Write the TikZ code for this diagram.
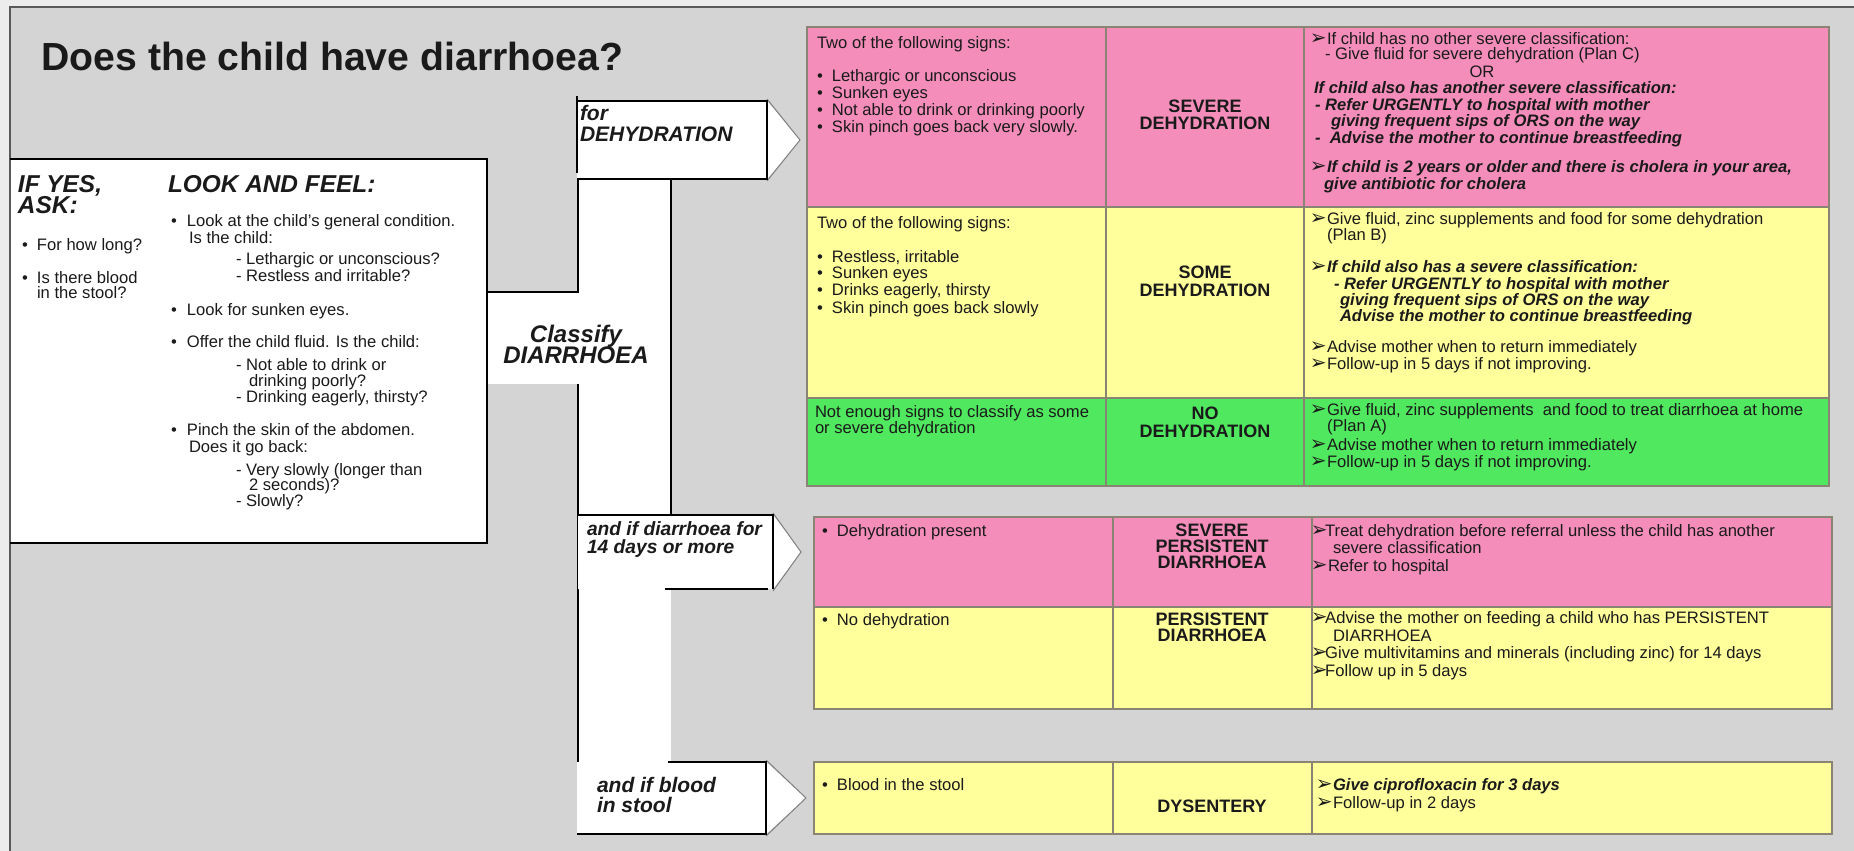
\documentclass[tikz,border=0pt]{standalone}
\usepackage{fontspec}
\setmainfont{Liberation Sans}
\newfontfamily\dv{DejaVu Sans}
\usetikzlibrary{fit}
\definecolor{pnk}{HTML}{F48DBA}
\definecolor{ylw}{HTML}{FFFF9C}
\definecolor{grn}{HTML}{50E85E}
\definecolor{panel}{HTML}{D4D4D4}
\definecolor{outerbg}{HTML}{ECECEC}
\definecolor{cellline}{HTML}{8A8474}
\definecolor{ink}{HTML}{1A1A1A}
\newcommand\body{\fontsize{8.3}{10}\selectfont}
\newcommand\bul{\makebox[7.5pt][l]{•}}
\newcommand\bulL{\makebox[8pt][l]{•}}
\newcommand\arrglyph{\smash{\kern-1.6pt{\dv\fontsize{10}{10}\selectfont ➢}}}
\newcommand\arr{\makebox[7pt][l]{\arrglyph}}
\newcommand\arrn{\makebox[5.6pt][l]{\arrglyph}}
\newcommand\bis[1]{\textbf{\textit{#1}}}
\tikzset{
  tx/.style={anchor=base west, inner sep=0pt, outer sep=0pt, font=\body, text=ink},
  bi/.style={tx, font=\body\bfseries\itshape},
  ctx/.style={anchor=base, inner sep=0pt, outer sep=0pt, font=\body, text=ink},
  cls/.style={anchor=base, inner sep=0pt, outer sep=0pt, font=\fontsize{9}{10}\selectfont\bfseries, text=ink},
  hd/.style={anchor=base west, inner sep=0pt, outer sep=0pt, font=\fontsize{12.2}{14}\selectfont\bfseries\itshape, text=ink},
  lbl/.style={anchor=base west, inner sep=0pt, outer sep=0pt, font=\fontsize{10.5}{12}\selectfont\bfseries\itshape, text=ink},
  lbls/.style={anchor=base west, inner sep=0pt, outer sep=0pt, font=\fontsize{9.6}{11}\selectfont\bfseries\itshape, text=ink},
  cellst/.style={draw=cellline, line width=0.8pt, inner sep=0pt, outer sep=0pt},
  blk/.style={line width=1.1pt, black},
  tri/.style={line width=0.5pt, gray},
}
\begin{document}
\begin{tikzpicture}[x=0.5pt,y=-0.5pt]
\useasboundingbox (0,0) rectangle (1854,851);
% backgrounds
\fill[outerbg] (0,0) rectangle (1854,851);
\fill[panel] (10,7) rectangle (1854,851);
\draw[line width=0.8pt, color=black!65] (10,851) -- (10,7) -- (1854,7);

% title
\node[anchor=base west, inner sep=0pt, font=\fontsize{19.6}{22}\selectfont\bfseries, text=ink] (title) at (41,70) {Does the child have diarrhoea?};

% white connector strip
\fill[white] (578,179) rectangle (671,764);
\fill[white] (486,292) rectangle (579,384);

% left box
\node[fill=white, inner sep=0pt, outer sep=0pt, fit={(11,159) (487,543)}] (lbox) {};
\draw[blk] (10,159) -- (487,159) -- (487,543) -- (10,543);

% strip lines
\draw[blk] (578,179) -- (578,292) -- (487,292);
\draw[blk] (578,384) -- (578,834);
\draw[blk] (671,179) -- (671,515);

% arrow box: for DEHYDRATION
\fill[white] (577,101) -- (767,101) -- (800,140) -- (767,179) -- (577,179) -- cycle;
\draw[tri] (767,99) -- (800,140) -- (767,181);
\draw[blk] (577,101) -- (767,101) -- (767,179) -- (577,179);
\draw[blk] (577,96) -- (577,173);
\coordinate (dtip) at (800,140);

% arrow box: 14 days
\fill[white] (578,515) -- (773,515) -- (801,552) -- (773,589) -- (578,589) -- cycle;
\draw[tri] (773,513) -- (801,552) -- (773,591);
\draw[blk] (578,515) -- (773,515) -- (773,589);
\draw[blk] (665,589) -- (768,589);
\coordinate (ptip) at (801,552);

% arrow box: blood
\fill[white] (577,762) -- (766,762) -- (806,798) -- (766,834) -- (577,834) -- cycle;
\draw[tri] (766,760) -- (806,798) -- (766,836);
\draw[blk] (668,762) -- (766,762) -- (766,834) -- (577,834);
\coordinate (btip) at (806,798);

% ---------- upper table cells
\node[cellst, fill=pnk, fit={(807,27) (1106,207)}] (p11) {};
\node[cellst, fill=pnk, fit={(1106,27) (1304,207)}] (p12) {};
\node[cellst, fill=pnk, fit={(1304,27) (1829,207)}] (p13) {};
\node[cellst, fill=ylw, fit={(807,207) (1106,398)}] (y11) {};
\node[cellst, fill=ylw, fit={(1106,207) (1304,398)}] (y12) {};
\node[cellst, fill=ylw, fit={(1304,207) (1829,398)}] (y13) {};
\node[cellst, fill=grn, fit={(807,398) (1106,486)}] (g11) {};
\node[cellst, fill=grn, fit={(1106,398) (1304,486)}] (g12) {};
\node[cellst, fill=grn, fit={(1304,398) (1829,486)}] (g13) {};
% persistent
\node[cellst, fill=pnk, fit={(814,517) (1113,607)}] (p21) {};
\node[cellst, fill=pnk, fit={(1113,517) (1312,607)}] (p22) {};
\node[cellst, fill=pnk, fit={(1312,517) (1832,607)}] (p23) {};
\node[cellst, fill=ylw, fit={(814,607) (1113,709)}] (y21) {};
\node[cellst, fill=ylw, fit={(1113,607) (1312,709)}] (y22) {};
\node[cellst, fill=ylw, fit={(1312,607) (1832,709)}] (y23) {};
% dysentery
\node[cellst, fill=ylw, fit={(814,762) (1113,834)}] (y31) {};
\node[cellst, fill=ylw, fit={(1113,762) (1312,834)}] (y32) {};
\node[cellst, fill=ylw, fit={(1312,762) (1832,834)}] (y33) {};

% ---------- left box text
\node[hd] (ify) at (18,192) {IF YES,};
\node[hd] (ask) at (18,213) {ASK:};
\node[hd] (lf) at (168,192) {LOOK AND FEEL:};
\node[tx] (q1) at (22,250) {\bul For how long?};
\node[tx] (q2) at (22,283) {\bul Is there blood};
\node[tx] (q3) at (37,298) {in the stool?};
\node[tx] (l1) at (171,226) {\bulL Look at the child’s general condition.};
\node[tx] (l2) at (189,243) {Is the child:};
\node[tx] (l3) at (236,264) {- Lethargic or unconscious?};
\node[tx] (l4) at (236,281) {- Restless and irritable?};
\node[tx] (l5) at (171,315) {\bulL Look for sunken eyes.};
\node[tx] (l6) at (171,347) {\bulL Offer the child fluid. Is the child:};
\node[tx] (l7) at (236,370) {- Not able to drink or};
\node[tx] (l8) at (249,386) {drinking poorly?};
\node[tx] (l9) at (236,402) {- Drinking eagerly, thirsty?};
\node[tx] (l10) at (171,435) {\bulL Pinch the skin of the abdomen.};
\node[tx] (l11) at (189,452) {Does it go back:};
\node[tx] (l12) at (236,475) {- Very slowly (longer than};
\node[tx] (l13) at (249,490) {2 seconds)?};
\node[tx] (l14) at (236,506) {- Slowly?};

% classify
\node[anchor=base, inner sep=0pt, font=\fontsize{12}{14}\selectfont\bfseries\itshape, text=ink] (cl1) at (576,342) {Classify};
\node[anchor=base, inner sep=0pt, font=\fontsize{12}{14}\selectfont\bfseries\itshape, text=ink] (cl2) at (576,363) {DIARRHOEA};

% arrow labels
\node[lbl] (fd1) at (580,120) {for};
\node[lbl] (fd2) at (580,141) {DEHYDRATION};
\node[lbls] (fp1) at (587,535) {and if diarrhoea for};
\node[lbls] (fp2) at (587,553) {14 days or more};
\node[lbl] (fb1) at (597,792) {and if blood};
\node[lbl] (fb2) at (597,812) {in stool};

% ---------- severe dehydration
\node[tx] (a1) at (817,48) {Two of the following signs:};
\node[tx] (a2) at (817,81) {\bul Lethargic or unconscious};
\node[tx] (a3) at (817,98) {\bul Sunken eyes};
\node[tx] (a4) at (817,115) {\bul Not able to drink or drinking poorly};
\node[tx] (a5) at (817,132) {\bul Skin pinch goes back very slowly.};
\node[cls] (a6) at (1205,112) {SEVERE};
\node[cls] (a7) at (1205,129) {DEHYDRATION};
\node[tx] (a8) at (1313,44) {\arr If child has no other severe classification:};
\node[tx] (a9) at (1325,60) {- Give fluid for severe dehydration (Plan C)};
\node[ctx] (a10) at (1482,77) {OR};
\node[bi] (a11) at (1314,93) {If child also has another severe classification:};
\node[bi] (a12) at (1315,110) {- Refer URGENTLY to hospital with mother};
\node[bi] (a13) at (1331,126) {giving frequent sips of ORS on the way};
\node[bi] (a14) at (1315,143) {-\ \ Advise the mother to continue breastfeeding};
\node[tx] (a15) at (1313,172) {\arr\bis{If child is 2 years or older and there is cholera in your area,}};
\node[bi] (a16) at (1324,189) {give antibiotic for cholera};

% ---------- some dehydration
\node[tx] (b1) at (817,228) {Two of the following signs:};
\node[tx] (b2) at (817,262) {\bul Restless, irritable};
\node[tx] (b3) at (817,278) {\bul Sunken eyes};
\node[tx] (b4) at (817,295) {\bul Drinks eagerly, thirsty};
\node[tx] (b5) at (817,313) {\bul Skin pinch goes back slowly};
\node[cls] (b6) at (1205,278) {SOME};
\node[cls] (b7) at (1205,296) {DEHYDRATION};
\node[tx] (b8) at (1313,224) {\arr Give fluid, zinc supplements and food for some dehydration};
\node[tx] (b9) at (1327,240) {(Plan B)};
\node[tx] (b10) at (1313,272) {\arr\bis{If child also has a severe classification:}};
\node[bi] (b11) at (1334,289) {- Refer URGENTLY to hospital with mother};
\node[bi] (b12) at (1340,305) {giving frequent sips of ORS on the way};
\node[bi] (b13) at (1340,321) {Advise the mother to continue breastfeeding};
\node[tx] (b14) at (1313,352) {\arr Advise mother when to return immediately};
\node[tx] (b15) at (1313,369) {\arr Follow-up in 5 days if not improving.};

% ---------- no dehydration
\node[tx] (c1) at (815,417) {Not enough signs to classify as some};
\node[tx] (c2) at (815,433) {or severe dehydration};
\node[cls] (c3) at (1205,419) {NO};
\node[cls] (c4) at (1205,437) {DEHYDRATION};
\node[tx] (c5) at (1313,415) {\arr Give fluid, zinc supplements\ \ and food to treat diarrhoea at home};
\node[tx] (c6) at (1327,431) {(Plan A)};
\node[tx] (c7) at (1313,450) {\arr Advise mother when to return immediately};
\node[tx] (c8) at (1313,467) {\arr Follow-up in 5 days if not improving.};

% ---------- persistent
\node[tx] (d1) at (822,536) {\bul Dehydration present};
\node[cls] (d2) at (1212,536) {SEVERE};
\node[cls] (d3) at (1212,552) {PERSISTENT};
\node[cls] (d4) at (1212,568) {DIARRHOEA};
\node[tx] (d5) at (1314,536) {\arrn Treat dehydration before referral unless the child has another};
\node[tx] (d6) at (1333,553) {severe classification};
\node[tx] (d7) at (1314,571) {\arr Refer to hospital};
\node[tx] (e1) at (822,625) {\bul No dehydration};
\node[cls] (e2) at (1212,625) {PERSISTENT};
\node[cls] (e3) at (1212,641) {DIARRHOEA};
\node[tx] (e4) at (1314,623) {\arrn Advise the mother on feeding a child who has PERSISTENT};
\node[tx] (e5) at (1333,641) {DIARRHOEA};
\node[tx] (e6) at (1314,658) {\arrn Give multivitamins and minerals (including zinc) for 14 days};
\node[tx] (e7) at (1314,676) {\arrn Follow up in 5 days};

% ---------- dysentery
\node[tx] (f1) at (822,790) {\bul Blood in the stool};
\node[cls] (f2) at (1212,812) {DYSENTERY};
\node[tx] (f3) at (1319,790) {\arr\bis{Give ciprofloxacin for 3 days}};
\node[tx] (f4) at (1319,808) {\arr Follow-up in 2 days};
\end{tikzpicture}
\end{document}
